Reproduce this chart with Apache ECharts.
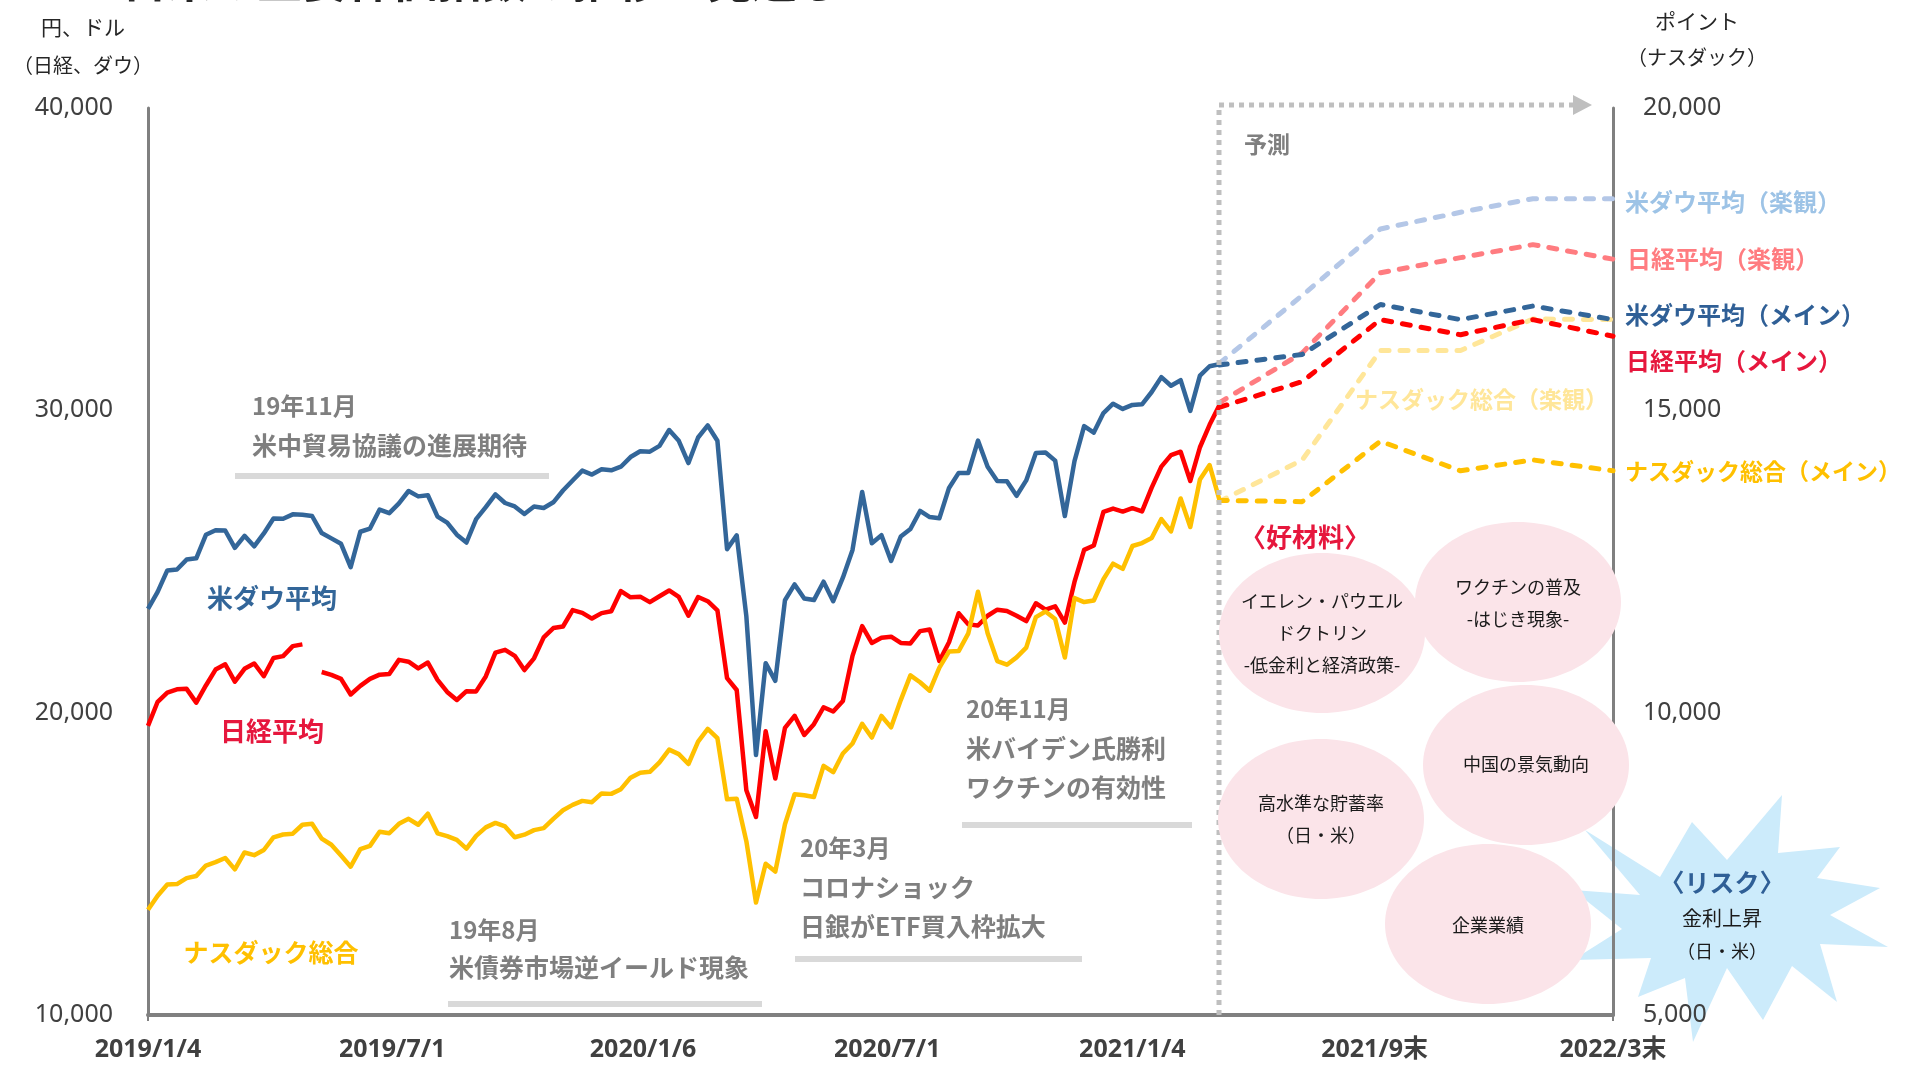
<!DOCTYPE html>
<html>
<head>
<meta charset="utf-8">
<script src="https://cdn.jsdelivr.net/npm/echarts@6/dist/echarts.min.js"></script>
<style>
html, body { margin: 0; padding: 0; background: #fff; }
#chart { width: 1913px; height: 1069px; }
</style>
</head>
<body>
<div id="chart"></div>
<script>
// 週次（2019/1/4 起点の週番号 = 配列の添字）
const dow = [
  23433, 23996, 24706, 24737, 25064, 25106, 25883, 26031, 26026, 25450,
  25849, 25502, 25929, 26425, 26412, 26559, 26543, 26505, 25942, 25764,
  25586, 24815, 25984, 26090, 26719, 26600, 26922, 27332, 27154, 27192,
  26485, 26287, 25886, 25628, 26403, 26797, 27220, 26935, 26820, 26573,
  26817, 26770, 26958, 27347, 27681, 28005, 27876, 28051, 28015, 28135,
  28455, 28645, 28634, 28824, 29348, 28990, 28256, 29102, 29500, 28992,
  25409, 25865, 23186, 18600, 21637, 21053, 23719, 24242, 23775, 23724,
  24331, 23685, 24465, 25383, 27300, 25606, 25871, 25016, 25827, 26075,
  26672, 26470, 26428, 27433, 27931, 27930, 29000, 28133, 27666, 27657,
  27174, 27683, 28587, 28606, 28336, 26502, 28323, 29480, 29263, 29910,
  30218, 30046, 30179, 30200, 30606, 31098, 30814, 30997, 29983, 31148,
  31458, 31522
];
const nikkei = [
  19561, 20360, 20666, 20774, 20788, 20333, 20900, 21425, 21602, 21025,
  21450, 21627, 21205, 21807, 21870, 22200, 22258, null, 21344, 21250,
  21117, 20601, 20884, 21116, 21258, 21276, 21746, 21686, 21466, 21658,
  21087, 20685, 20418, 20711, 20704, 21199, 21988, 22079, 21879, 21410,
  21798, 22492, 22800, 22850, 23391, 23303, 23112, 23293, 23354, 24023,
  23816, 23837, 23656, 23850, 24041, 23827, 23205, 23827, 23687, 23386,
  21142, 20749, 17431, 16553, 19389, 17820, 19498, 19897, 19262, 19619,
  20179, 20037, 20388, 21878, 22863, 22305, 22478, 22512, 22306, 22290,
  22696, 22751, 21710, 22329, 23289, 22920, 22882, 23205, 23406, 23360,
  23204, 23029, 23619, 23410, 23516, 22977, 24325, 25385, 25527, 26644,
  26751, 26652, 26763, 26656, 27444, 28139, 28519, 28631, 27663, 28779,
  29520, 30156
];
const nasdaq = [
  6739, 6971, 7157, 7165, 7264, 7298, 7472, 7528, 7596, 7408,
  7688, 7643, 7729, 7939, 7985, 7998, 8146, 8164, 7917, 7816,
  7637, 7453, 7742, 7797, 8032, 8006, 8162, 8244, 8146, 8330,
  8004, 7959, 7896, 7752, 7963, 8103, 8177, 8118, 7940, 7982,
  8057, 8090, 8243, 8386, 8475, 8541, 8520, 8665, 8657, 8735,
  8925, 9007, 9021, 9179, 9389, 9315, 9151, 9520, 9731, 9577,
  8567, 8576, 7875, 6860, 7502, 7373, 8154, 8650, 8634, 8605,
  9121, 9015, 9325, 9490, 9815, 9589, 9946, 9757, 10208, 10617,
  10503, 10363, 10745, 11011, 11019, 11312, 12000, 11313, 10854, 10793,
  10914, 11075, 11580, 11672, 11548, 10912, 11895, 11829, 11855, 12206,
  12464, 12378, 12756, 12805, 12888, 13202, 12998, 13543, 13070, 13856,
  14095, 13533
];

// 予測（週番号の位置）
const fcX = [111, 119.6, 127.7, 136.0, 143.5, 151.8];
const dowMain = [31500, 31850, 33500, 33000, 33450, 33000];
const dowOpt = [31550, 33800, 36000, 36550, 37000, 37000];
const nikkeiMain = [30100, 30950, 33000, 32500, 33000, 32450];
const nikkeiOpt = [30250, 31900, 34550, 35050, 35480, 35000];
const nasdaqMain = [13510, 13490, 14490, 14000, 14180, 14000];
const nasdaqOpt = [13490, 14180, 15990, 15990, 16510, 16500];

// x 軸目盛
const tickPos = [0, 25.3, 51.3, 76.6, 102.0, 127.1, 151.8];
const tickLabels = ['2019/1/4', '2019/7/1', '2020/1/6', '2020/7/1', '2021/1/4', '2021/9末', '2022/3末'];

const JP = '"Noto Sans CJK JP"';
const NUM = '"Noto Sans", "Noto Sans CJK JP", sans-serif';

const toPts = arr => arr.map((v, i) => [i, v]);
const toFc = arr => arr.map((v, i) => [fcX[i], v]);

function actual(name, data, color, yIdx) {
    return {
        name: name, type: 'line', yAxisIndex: yIdx, data: data,
        symbol: 'none', connectNulls: false,
        lineStyle: { color: color, width: 4.5, join: 'round' },
        z: 3
    };
}
function forecast(name, data, color, yIdx) {
    return {
        name: name, type: 'line', yAxisIndex: yIdx, data: data,
        symbol: 'none',
        lineStyle: { color: color, width: 5, type: [8, 11], cap: 'round' },
        z: 2
    };
}
function txt(x, y, text, size, color, bold, align) {
    return {
        type: 'text', z: 20,
        style: {
            x: x, y: y, text: text, fill: color,
            font: (bold ? 'bold ' : '') + size + 'px ' + JP,
            align: align || 'left', verticalAlign: 'middle',
            textAlign: align || 'left', textVerticalAlign: 'middle'
        }
    };
}
function bar(x1, x2, y) {
    return { type: 'rect', z: 1, shape: { x: x1, y: y - 3, width: x2 - x1, height: 6 }, style: { fill: '#D9D9D9' } };
}
function bubble(cx, cy) {
    return { type: 'ellipse', z: 10, shape: { cx: cx, cy: cy, rx: 103, ry: 80 }, style: { fill: '#FBE4E9' } };
}

const gray = '#7F7F7F';
const crimson = '#E6173D';
const dark = '#1A1A1A';

const star = [
    [1585, 830], [1660, 877], [1692, 822], [1727, 860], [1782, 795], [1778, 853],
    [1840, 847], [1817, 878], [1880, 888], [1830, 915], [1888, 947], [1820, 944],
    [1837, 1002], [1792, 966], [1763, 1020], [1727, 968], [1693, 1042], [1685, 978],
    [1638, 997], [1651, 958], [1573, 960], [1622, 929], [1573, 890], [1640, 895]
];

const graphics = [
    // タイトル（上端で切れている）
    txt(122, -19, '日米の主要株価指数の推移と見通し', 45, '#262626', true),
    // 軸タイトル
    txt(83, 27, '円、ドル', 21, '#262626', false, 'center'),
    txt(83, 65, '（日経、ダウ）', 20, '#262626', false, 'center'),
    txt(1697, 21, 'ポイント', 21, '#262626', false, 'center'),
    txt(1697, 57, '（ナスダック）', 20, '#262626', false, 'center'),
    // 予測の枠
    {
        type: 'polyline', z: 6,
        shape: { points: [[1219, 1015], [1219, 105], [1574, 105]] },
        style: { stroke: '#BFBFBF', lineWidth: 5, lineDash: [5, 5], fill: null }
    },
    { type: 'polygon', z: 6, shape: { points: [[1573, 95], [1592, 105], [1573, 115]] }, style: { fill: '#BFBFBF' } },
    txt(1244, 144, '予測', 23, gray, true),
    // 系列ラベル
    txt(272, 598, '米ダウ平均', 26, '#336699', true, 'center'),
    txt(272, 731, '日経平均', 26, crimson, true, 'center'),
    txt(271, 952, 'ナスダック総合', 25, '#FFC000', true, 'center'),
    txt(1625, 202, '米ダウ平均（楽観）', 24, '#9DC3E6', true),
    txt(1627, 259, '日経平均（楽観）', 24, '#FF7C80', true),
    txt(1625, 315, '米ダウ平均（メイン）', 24, '#2F5F96', true),
    txt(1626, 361, '日経平均（メイン）', 24, crimson, true),
    txt(1355, 399, 'ナスダック総合（楽観）', 23, '#FFE699', true),
    txt(1625, 471, 'ナスダック総合（メイン）', 23, '#FFC000', true),
    // 注記
    txt(252, 406, '19年11月', 24, gray, true),
    txt(252, 445, '米中貿易協議の進展期待', 25, gray, true),
    bar(235, 549, 476),
    txt(449, 930, '19年8月', 24, gray, true),
    txt(449, 967, '米債券市場逆イールド現象', 25, gray, true),
    bar(448, 762, 1004),
    txt(800, 848, '20年3月', 24, gray, true),
    txt(800, 887, 'コロナショック', 25, gray, true),
    txt(800, 926, '日銀がETF買入枠拡大', 25, gray, true),
    bar(795, 1082, 959),
    txt(966, 709, '20年11月', 24, gray, true),
    txt(966, 748, '米バイデン氏勝利', 25, gray, true),
    txt(966, 787, 'ワクチンの有効性', 25, gray, true),
    bar(962, 1192, 825),
    // リスク
    { type: 'polygon', z: -1, shape: { points: star }, style: { fill: '#CCEBFB' } },
    txt(1722, 882, '〈リスク〉', 25, '#2F5F96', true, 'center'),
    txt(1722, 918, '金利上昇', 20, dark, false, 'center'),
    txt(1722, 951, '（日・米）', 18, dark, false, 'center'),
    // 好材料
    txt(1240, 537, '〈好材料〉', 26, crimson, true),
    bubble(1322, 633), bubble(1518, 602), bubble(1526, 765), bubble(1321, 819), bubble(1488, 924),
    txt(1322, 601, 'イエレン・パウエル', 18, dark, false, 'center'),
    txt(1322, 633, 'ドクトリン', 18, dark, false, 'center'),
    txt(1322, 665, '-低金利と経済政策-', 18, dark, false, 'center'),
    txt(1518, 587, 'ワクチンの普及', 18, dark, false, 'center'),
    txt(1518, 619, '-はじき現象-', 18, dark, false, 'center'),
    txt(1526, 764, '中国の景気動向', 18, dark, false, 'center'),
    txt(1321, 803, '高水準な貯蓄率', 18, dark, false, 'center'),
    txt(1321, 835, '（日・米）', 18, dark, false, 'center'),
    txt(1488, 925, '企業業績', 18, dark, false, 'center')
];

const chart = echarts.init(document.getElementById('chart'));
const option = {
    animation: false,
    backgroundColor: '#fff',
    grid: { left: 148, right: 300, top: 108, bottom: 54, containLabel: false },
    xAxis: {
        type: 'value', min: 0, max: 151.8,
        axisLine: { lineStyle: { color: '#808080', width: 4 } },
        axisTick: { show: true, customValues: [0, 151.8], length: 6, lineStyle: { color: '#808080', width: 2 } },
        splitLine: { show: false },
        axisLabel: {
            customValues: tickPos,
            showMinLabel: true, showMaxLabel: true,
            margin: 22,
            color: '#404040', fontWeight: 'bold', fontSize: 25, fontFamily: NUM,
            formatter: v => tickLabels[tickPos.indexOf(v)]
        }
    },
    yAxis: [
        {
            type: 'value', min: 10000, max: 40000, interval: 10000,
            axisLine: { show: true, lineStyle: { color: '#808080', width: 3 } },
            axisTick: { show: false },
            splitLine: { show: false },
            axisLabel: { margin: 35, color: '#404040', fontSize: 25, fontFamily: NUM,
                formatter: v => v.toLocaleString('en-US') }
        },
        {
            type: 'value', min: 5000, max: 20000, interval: 5000, position: 'right',
            axisLine: { show: true, lineStyle: { color: '#808080', width: 3 } },
            axisTick: { show: false },
            splitLine: { show: false },
            axisLabel: { margin: 30, color: '#404040', fontSize: 25, fontFamily: NUM,
                formatter: v => v.toLocaleString('en-US') }
        }
    ],
    series: [
        forecast('米ダウ平均（楽観）', toFc(dowOpt), '#B4C7E7', 0),
        forecast('日経平均（楽観）', toFc(nikkeiOpt), '#FF7C80', 0),
        forecast('ナスダック総合（楽観）', toFc(nasdaqOpt), '#FFE699', 1),
        forecast('米ダウ平均（メイン）', toFc(dowMain), '#336699', 0),
        forecast('日経平均（メイン）', toFc(nikkeiMain), '#FF0000', 0),
        forecast('ナスダック総合（メイン）', toFc(nasdaqMain), '#FFC000', 1),
        actual('米ダウ平均', toPts(dow), '#336699', 0),
        actual('日経平均', toPts(nikkei), '#FF0000', 0),
        actual('ナスダック総合', toPts(nasdaq), '#FFC000', 1)
    ],
    graphic: graphics
};
chart.setOption(option);
window.addEventListener('resize', () => {
    chart.resize();
});
</script>
</body>
</html>
